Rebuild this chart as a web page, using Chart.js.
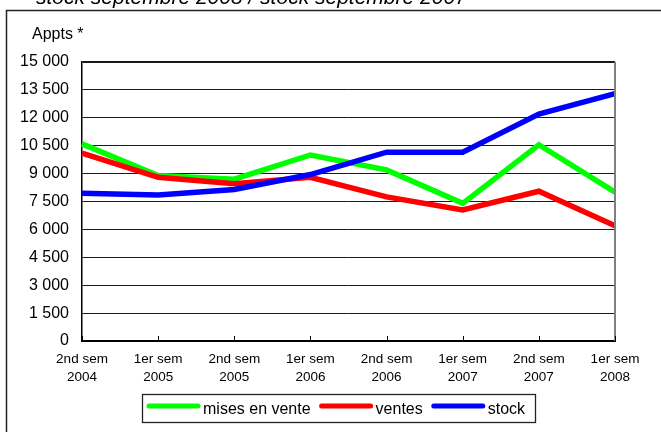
<!DOCTYPE html>
<html>
<head>
<meta charset="utf-8">
<script src="https://cdn.jsdelivr.net/npm/chart.js@4/dist/chart.umd.min.js"></script>
<style>
  html, body { margin: 0; padding: 0; background: #fff; }
  canvas { display: block; }
</style>
</head>
<body>
<canvas id="chart" width="661" height="432"></canvas>
<script>
// --- données ---
const periodes = [
  ["2nd sem", "2004"], ["1er sem", "2005"], ["2nd sem", "2005"], ["1er sem", "2006"],
  ["2nd sem", "2006"], ["1er sem", "2007"], ["2nd sem", "2007"], ["1er sem", "2008"]
];
const misesEnVente = [10600, 8900, 8700, 10000, 9200, 7400, 10550, 8000];
const ventes = [10100, 8800, 8450, 8800, 7750, 7050, 8050, 6200];
const stock = [7950, 7850, 8150, 8950, 10150, 10150, 12200, 13300];

const titre = "stock septembre 2008 / stock septembre 2007";
const uniteAxe = "Appts *";
const yMax = 15000;
const yPas = 1500;

const police = "Arial, 'Liberation Sans', sans-serif";

function milliers(v) {
  return String(v).replace(/\B(?=(\d{3})+(?!\d))/g, " ");
}

// cadre, titre coupé, unité, bord droit, graduations et légende
const decor = {
  id: "decor",
  afterDraw(chart) {
    const ctx = chart.ctx;
    const area = chart.chartArea;
    const xs = chart.scales.x;
    ctx.save();

    // cadre extérieur (déborde à droite et en bas)
    ctx.strokeStyle = "#222";
    ctx.lineWidth = 1.5;
    ctx.strokeRect(6.5, 10.5, 720, 500);

    // titre en italique, coupé en haut
    ctx.fillStyle = "#000";
    ctx.font = "italic 21px " + police;
    ctx.textBaseline = "alphabetic";
    ctx.textAlign = "left";
    ctx.fillText(titre, 36, 4);

    // unité de l'axe
    ctx.font = "16px " + police;
    ctx.textBaseline = "middle";
    ctx.fillText(uniteAxe, 32, 35);

    // bord droit de la zone de tracé
    ctx.strokeStyle = "#808080";
    ctx.lineWidth = 2;
    ctx.beginPath();
    ctx.moveTo(area.right, area.top);
    ctx.lineTo(area.right, area.bottom);
    ctx.stroke();

    // graduations de l'axe x (vers l'intérieur)
    ctx.strokeStyle = "#000";
    ctx.lineWidth = 1;
    xs.ticks.forEach((t, i) => {
      const x = Math.round(xs.getPixelForTick(i)) + 0.5;
      ctx.beginPath();
      ctx.moveTo(x, area.bottom - 5);
      ctx.lineTo(x, area.bottom);
      ctx.stroke();
    });

    // légende encadrée
    const boxLeft = 142.5, boxTop = 394.5, boxRight = 535.5, boxBottom = 422.5;
    ctx.strokeStyle = "#222";
    ctx.lineWidth = 1.3;
    ctx.strokeRect(boxLeft, boxTop, boxRight - boxLeft, boxBottom - boxTop);

    ctx.font = "16px " + police;
    ctx.textBaseline = "alphabetic";
    let x = 147;
    chart.data.datasets.forEach(ds => {
      ctx.strokeStyle = ds.borderColor;
      ctx.lineWidth = 5;
      ctx.lineCap = "round";
      ctx.beginPath();
      ctx.moveTo(x + 2, 406);
      ctx.lineTo(x + 51, 406);
      ctx.stroke();
      x += 56;
      ctx.fillStyle = "#000";
      ctx.fillText(ds.label, x, 414);
      x += ctx.measureText(ds.label).width + 9;
    });
    ctx.restore();
  }
};

new Chart(document.getElementById("chart"), {
  type: "line",
  data: {
    labels: periodes,
    datasets: [
      { label: "mises en vente", data: misesEnVente, borderColor: "#00ff00", order: 2 },
      { label: "ventes", data: ventes, borderColor: "#ff0000", order: 1 },
      { label: "stock", data: stock, borderColor: "#0000ff", order: 0 }
    ]
  },
  options: {
    responsive: false,
    animation: false,
    events: [],
    layout: { padding: { left: 14, right: 46, top: 62, bottom: 41 } },
    elements: {
      line: { borderWidth: 5.5, tension: 0, fill: false },
      point: { radius: 0 }
    },
    plugins: {
      legend: { display: false },
      tooltip: { enabled: false }
    },
    scales: {
      x: {
        offset: false,
        grid: { display: false, drawTicks: false },
        border: { color: "#000", width: 2 },
        ticks: {
          color: "#000",
          padding: 10,
          maxRotation: 0,
          autoSkip: false,
          font: { family: police, size: 13.5, lineHeight: 1.3 }
        },
        afterFit(s) { s.height = 50; }
      },
      y: {
        min: 0,
        max: yMax,
        grid: {
          color: "#1a1a1a",
          lineWidth: c => (c.tick && c.tick.value === yMax ? 2 : 1),
          drawTicks: false
        },
        border: { color: "#000", width: 1.5 },
        ticks: {
          stepSize: yPas,
          color: "#000",
          padding: 13,
          font: { family: police, size: 16 },
          callback: v => milliers(v)
        },
        afterFit(s) { s.width = 68; }
      }
    }
  },
  plugins: [decor]
});
</script>
</body>
</html>
